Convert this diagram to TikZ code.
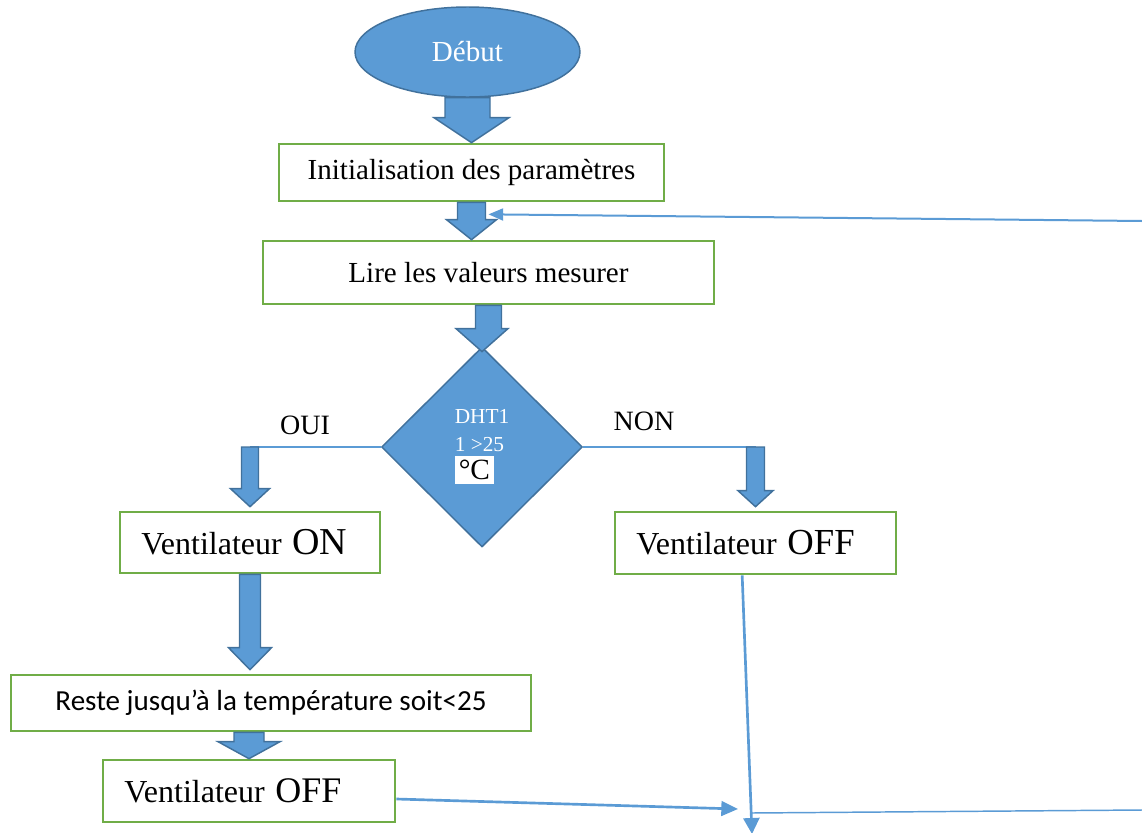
\documentclass[tikz,border=0pt]{standalone}
\usepackage{fontspec}
\setmainfont{Liberation Serif}
\newfontfamily\calibrifont{Carlito}
\usepackage{xcolor}
\usetikzlibrary{arrows.meta, shapes.geometric, calc}
\definecolor{flowblue}{HTML}{5B9BD5}
\definecolor{flowedge}{HTML}{41719C}
\definecolor{boxgreen}{HTML}{70AD47}
\newcommand{\blockarrow}[5]{%
  \draw[blockarr] let \p1=#1, \p2=#2 in
    (\x1-#3*0.75pt,\y1) -- (\x1+#3*0.75pt,\y1) -- (\x1+#3*0.75pt,\y2+#5*0.75pt)
    -- (\x2+#4*0.75pt,\y2+#5*0.75pt) -- (\x2,\y2) -- (\x2-#4*0.75pt,\y2+#5*0.75pt)
    -- (\x1-#3*0.75pt,\y2+#5*0.75pt) -- cycle;}

\begin{document}
\begin{tikzpicture}[x=0.75pt, y=-0.75pt,
    box/.style={draw=boxgreen, line width=2pt, fill=white, inner sep=0pt,
      font=\fontsize{21.8}{26}\selectfont},
    fanbox/.style={box, align=left, inner xsep=16pt, font=\fontsize{24}{28}\selectfont},
    startnode/.style={ellipse, draw=flowedge, fill=flowblue, line width=1.1pt, text=white,
      inner sep=0pt, font=\fontsize{21.8}{26}\selectfont},
    testnode/.style={diamond, draw=flowedge, fill=flowblue, line width=1.1pt, text=white,
      inner sep=0pt, align=left, font=\fontsize{16}{21}\selectfont},
    answer/.style={inner sep=0pt, font=\fontsize{21}{24}\selectfont},
    blockarr/.style={draw=flowedge, fill=flowblue, line width=1.1pt, line join=miter},
    link/.style={draw=flowblue, line width=0.9pt}]
  \useasboundingbox (0,0) rectangle (1142,832);

  \node[startnode, minimum width=168.75pt, minimum height=67.5pt] (debut) at (467.5,52) {Début};
  \node[box, minimum width=288.75pt, minimum height=42.75pt] (init) at (471.5,172.5) {Initialisation des paramètres};
  \node[box, minimum width=338.25pt, minimum height=47.25pt] (lire) at (488.5,272.5) {Lire les valeurs mesurer};
  \node[testnode, minimum width=150.75pt, minimum height=150pt] (dec) at (482,447)
    {DHT1\\1 >25\\\colorbox{white}{\color{black}\fontsize{22}{24}\selectfont °C}};
  \node[answer] (oui) at (305,425) {OUI};
  \node[answer] (non) at (644,421) {NON};
  \node[fanbox, text width=163pt, minimum height=45.75pt] (von) at (250,542.5)
    {Ventilateur {\fontsize{28.5}{30}\selectfont ON}};
  \node[fanbox, text width=178.75pt, minimum height=46.5pt] (voff) at (755.5,543)
    {Ventilateur {\fontsize{27.5}{30}\selectfont OFF}};
  \node[box, minimum width=390pt, minimum height=42pt, font=\calibrifont\fontsize{21.8}{26}\selectfont]
    (reste) at (271,703) {Reste jusqu’à la température soit<25};
  \node[fanbox, text width=187pt, minimum height=46.5pt] (voff2) at (249,791)
    {Ventilateur {\fontsize{27}{30}\selectfont OFF}};

  \coordinate (backR) at (1142,221);
  \coordinate (loopR) at (1142,810);
  \coordinate (joinR) at (751,813);
  \coordinate (merge) at (738,809);
  \coordinate (offend) at (752,834);

  \draw[link] (dec.west) -- (dec.west -| von.north);
  \draw[link] (dec.east) -- (dec.east -| voff.north);
  \draw[link, line width=1.5pt, -{Triangle[length=11pt, width=9pt]}] (backR) -- ($(init.south)+(17,12)$);
  \draw[link, line width=2pt, -{Triangle[length=12pt, width=12pt]}] ([xshift=-10pt]voff.south) -- (offend);
  \draw[link, line width=2pt, -{Triangle[length=12.5pt, width=11pt]}] ([yshift=-6pt]voff2.east) -- (merge);
  \draw[link, line width=1.1pt] (joinR) -- (loopR);

  \blockarrow{(debut.south)}{(init.north)}{22.5}{37.5}{25}
  \blockarrow{(init.south)}{(init.south |- lire.north)}{14}{25}{20}
  \blockarrow{(lire.south)}{([yshift=-4pt]dec.north)}{13}{26}{23}
  \blockarrow{(dec.west -| von.north)}{([yshift=3pt]von.north)}{8.5}{19.5}{18}
  \blockarrow{(dec.east -| voff.north)}{([yshift=3pt]voff.north)}{9}{17.5}{16}
  \blockarrow{(von.south)}{([yshift=3pt]reste.north -| von.south)}{10.5}{21.5}{22}
  \blockarrow{(voff2.north |- reste.south)}{(voff2.north)}{15}{31}{17}
\end{tikzpicture}
\end{document}
